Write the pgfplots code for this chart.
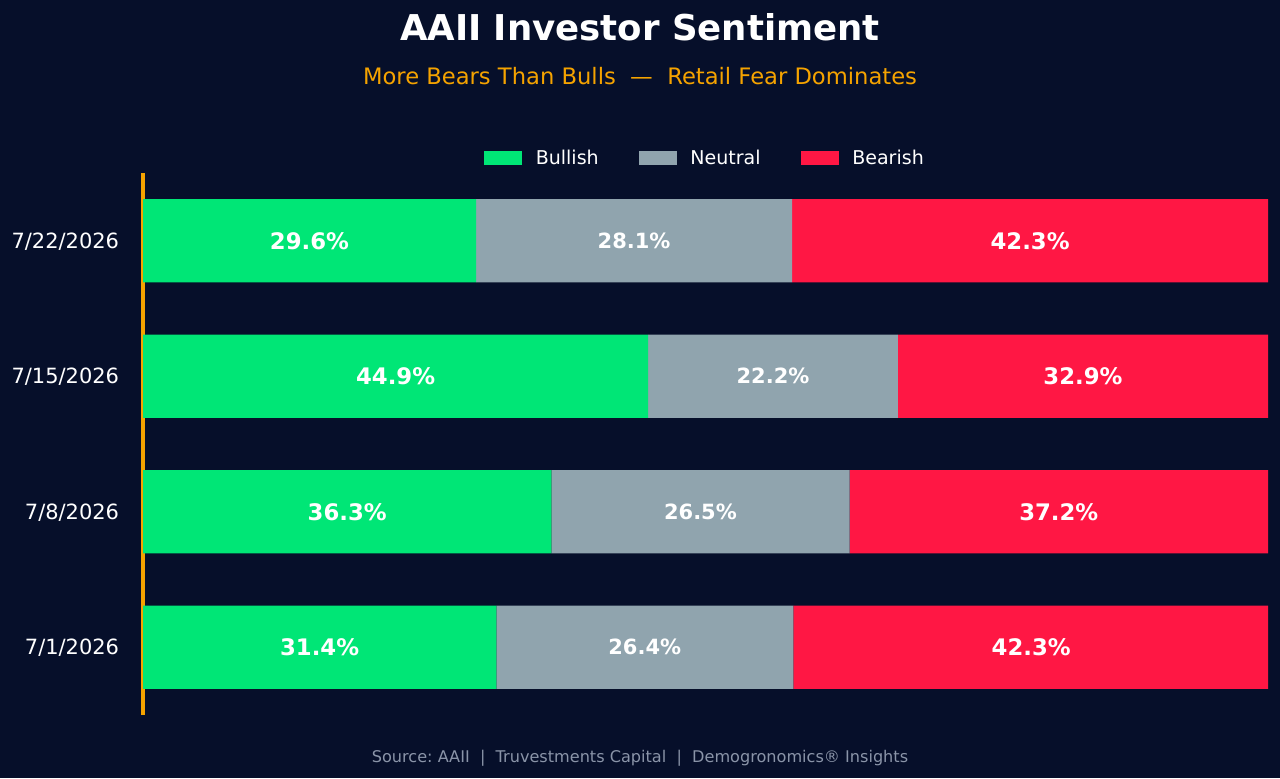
\documentclass[border=0pt]{standalone}
\usepackage{pgfplots}
\pgfplotsset{compat=1.18}
\usepackage{fontspec}
\setmainfont{DejaVu Sans}
\definecolor{bg}{HTML}{060F2A}
\definecolor{cgreen}{HTML}{00E676}
\definecolor{cgray}{HTML}{90A4AE}
\definecolor{cred}{HTML}{FF1744}
\definecolor{corange}{HTML}{F5A300}
\definecolor{cfoot}{HTML}{8A94A8}
\begin{document}
\begin{tikzpicture}
\fill[bg] (0pt,0pt) rectangle (921.6pt,560.16pt);
\node[text=white, font=\bfseries\fontsize{25.6}{30}\selectfont] at (460.8pt,540.72pt) {AAII Investor Sentiment};
\node[text=corange, font=\fontsize{16.3}{20}\selectfont] at (460.8pt,505.44pt) {More Bears Than Bulls\ \ —\ \ Retail Fear Dominates};
\node[text=cfoot, font=\fontsize{11.6}{14}\selectfont] at (460.8pt,14.4pt) {Source:\ AAII\ \ |\ \ Truvestments Capital\ \ |\ \ Demogronomics® Insights};
\begin{axis}[
  at={(102.96pt,45.36pt)}, anchor=south west,
  width=810pt, height=390.24pt, scale only axis,
  xbar stacked, bar width=60pt,
  xmin=0, xmax=100, ymin=-0.5, ymax=3.5,
  axis x line=none,
  axis y line*=left,
  y axis line style={draw=corange, line width=2.2pt, -},
  ytick={0,1,2,3},
  yticklabels={7/1/2026,7/8/2026,7/15/2026,7/22/2026},
  major tick length=0pt,
  ytick style={draw=none},
  yticklabel style={text=white, font=\fontsize{15.1}{18}\selectfont, anchor=east, inner sep=0pt, xshift=-17pt, yshift=-0.5pt},
  legend columns=3,
  legend style={at={(0.5,1.028)}, anchor=center, draw=none, fill=none, text=white,
    font=\fontsize{13.7}{16}\selectfont,
    /tikz/every even column/.append style={column sep=27pt}},
  legend image code/.code={\fill[#1, draw=none] (0pt,-5pt) rectangle (27.4pt,5pt); \path (35pt,0pt);},
]
\addplot[fill=cgreen, draw=none] coordinates {(31.4,0) (36.3,1) (44.9,2) (29.6,3)};
\addplot[fill=cgray, draw=none] coordinates {(26.4,0) (26.5,1) (22.2,2) (28.1,3)};
\addplot[fill=cred, draw=none] coordinates {(42.3,0) (37.2,1) (32.9,2) (42.3,3)};
\legend{Bullish,Neutral,Bearish}
\end{axis}
\begin{axis}[
  at={(102.96pt,45.36pt)}, anchor=south west,
  width=810pt, height=390.24pt, scale only axis,
  xmin=0, xmax=100, ymin=-0.5, ymax=3.5,
  hide axis,
]
\addplot[draw=none, mark=none, nodes near coords, point meta=explicit symbolic,
  nodes near coords style={anchor=center, text=white, font=\bfseries\fontsize{16.4}{19}\selectfont}]
  table[meta=l] {
x y l
15.7 0 31.4\%
18.15 1 36.3\%
22.45 2 44.9\%
14.8 3 29.6\%
78.95 0 42.3\%
81.4 1 37.2\%
83.55 2 32.9\%
78.85 3 42.3\%
};
\addplot[draw=none, mark=none, nodes near coords, point meta=explicit symbolic,
  nodes near coords style={anchor=center, text=white, font=\bfseries\fontsize{15.1}{18}\selectfont}]
  table[meta=l] {
x y l
44.6 0 26.4\%
49.55 1 26.5\%
56.0 2 22.2\%
43.65 3 28.1\%
};
\end{axis}
\end{tikzpicture}
\end{document}
